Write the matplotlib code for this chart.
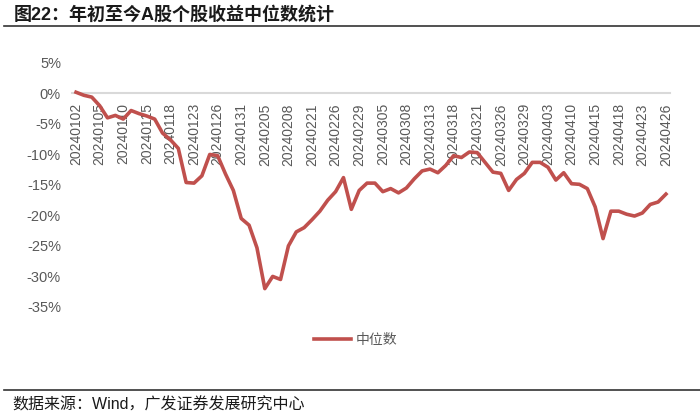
import matplotlib
matplotlib.use("Agg")
import matplotlib.pyplot as plt
from matplotlib.ticker import FuncFormatter

plt.rcParams['font.family'] = ['Liberation Sans', 'Noto Sans CJK SC', 'DejaVu Sans']

dates = ["20240102","20240103","20240104","20240105","20240108","20240109","20240110","20240111","20240112",
         "20240115","20240116","20240117","20240118","20240119","20240122","20240123","20240124","20240125",
         "20240126","20240129","20240130","20240131","20240201","20240202","20240205","20240206","20240207",
         "20240208","20240219","20240220","20240221","20240222","20240223","20240226","20240227","20240228",
         "20240229","20240301","20240304","20240305","20240306","20240307","20240308","20240311","20240312",
         "20240313","20240314","20240315","20240318","20240319","20240320","20240321","20240322","20240325",
         "20240326","20240327","20240328","20240329","20240401","20240402","20240403","20240408","20240409",
         "20240410","20240411","20240412","20240415","20240416","20240417","20240418","20240419","20240422",
         "20240423","20240424","20240425","20240426"]

median = [0.2, -0.3, -0.6, -2.0, -4.0, -3.6, -4.2, -2.8, -3.3, -3.7, -4.2, -6.5, -7.6, -9.0, -14.6, -14.7,
          -13.5, -10.0, -10.2, -13.2, -15.9, -20.5, -21.6, -25.3, -32.0, -30.0, -30.5, -25.0, -22.7, -22.0,
          -20.7, -19.3, -17.5, -16.1, -13.8, -19.0, -15.9, -14.7, -14.7, -16.1, -15.6, -16.3, -15.5, -14.0,
          -12.7, -12.4, -13.0, -11.8, -10.2, -10.5, -9.6, -9.7, -11.3, -12.9, -13.1, -15.9, -14.1, -13.1,
          -11.3, -11.3, -12.1, -14.2, -13.0, -14.8, -14.9, -15.6, -18.6, -23.8, -19.3, -19.3, -19.8, -20.1,
          -19.6, -18.2, -17.8, -16.5]

series_name = "中位数"
title = "图22：年初至今A股个股收益中位数统计"
source = "数据来源：Wind，广发证券发展研究中心"
yticks = [5, 0, -5, -10, -15, -20, -25, -30, -35]

fig = plt.figure(figsize=(7.0, 4.17), dpi=100)
ax = fig.add_axes([0.103, 0.264, 0.854, 0.585])

for s in ["top", "right", "left"]:
    ax.spines[s].set_visible(False)
ax.spines["bottom"].set_position(("data", 0))
ax.spines["bottom"].set_color("#D9D9D9")
ax.spines["bottom"].set_linewidth(1.5)
ax.spines["bottom"].set_zorder(0)

x = list(range(len(dates)))
line, = ax.plot(x, median, color="#C0504D", lw=2.6, solid_joinstyle="round", label=series_name)

ax.set_xlim(-0.5, len(dates) - 0.5)
ax.set_ylim(-35, 5)
ax.set_yticks(yticks)
ax.yaxis.set_major_formatter(FuncFormatter(lambda v, p: f"{int(round(v))}%"))

ax.set_xticks(x[::3])
ax.set_xticklabels(dates[::3])
ax.tick_params(axis="x", length=0, pad=7, labelrotation=90, labelsize=10, labelcolor="#595959")
ax.tick_params(axis="y", length=0, pad=8, labelsize=10.5, labelcolor="#595959")

leg = fig.legend(handles=[line], loc="center", bbox_to_anchor=(0.508, 0.185), frameon=False,
                 fontsize=10, handlelength=2.7, handletextpad=0.3)
for t in leg.get_texts():
    t.set_color("#595959")

fig.text(0.02, 0.965, title, fontsize=13, fontweight="bold", color="#1a1a1a", va="center", ha="left")
fig.add_artist(plt.Line2D([0.005, 1.0], [0.937, 0.937], color="#333333", lw=1.2, transform=fig.transFigure))
fig.add_artist(plt.Line2D([0.005, 1.0], [0.065, 0.065], color="#333333", lw=1.2, transform=fig.transFigure))
fig.text(0.017, 0.029, source, fontsize=11.5, color="#1a1a1a", va="center", ha="left")

fig.savefig("out.png", dpi=100)
